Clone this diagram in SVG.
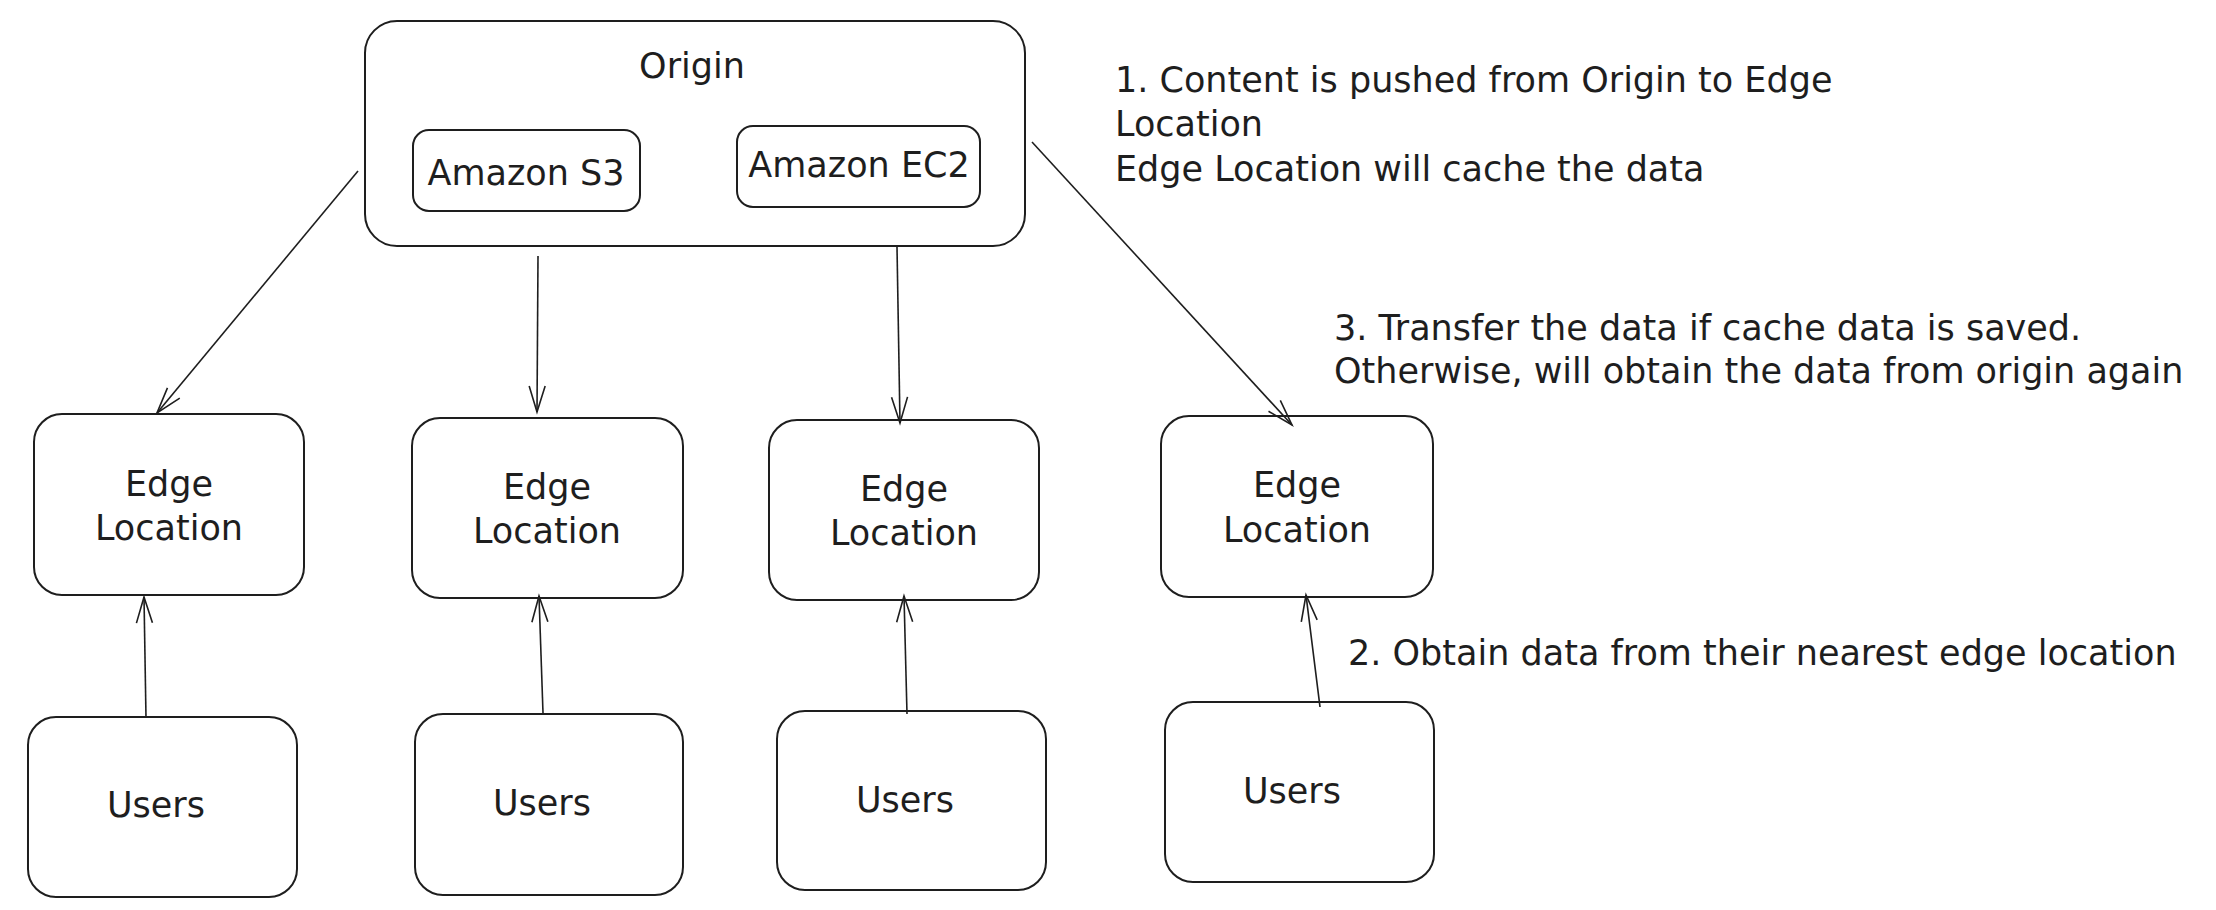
<svg xmlns="http://www.w3.org/2000/svg" width="2216" height="910" viewBox="0 0 2216 910">
<style>
  .box { fill: #ffffff; stroke: #1e1e1e; stroke-width: 2; }
  .lbl { font-family: "DejaVu Sans", "Liberation Sans", sans-serif; font-size: 35px; fill: #1e1e1e; }
  .mid { text-anchor: middle; }
  .conn { fill: none; stroke: #1e1e1e; stroke-width: 1.6; marker-end: url(#ah); }
</style>
<defs>
  <marker id="ah" markerWidth="30" markerHeight="20" refX="28" refY="10" orient="auto" markerUnits="userSpaceOnUse" overflow="visible">
    <path d="M2,2 L28,10 L2,18" fill="none" stroke="#1e1e1e" stroke-width="1.6"/>
  </marker>
</defs>
<rect width="2216" height="910" fill="#ffffff"/>

<g id="origin">
  <rect class="box" x="365" y="21" width="660" height="225" rx="32"/>
  <text class="lbl mid" x="692" y="78">Origin</text>
</g>
<g id="amazon-s3">
  <rect class="box" x="413" y="130" width="227" height="81" rx="16"/>
  <text class="lbl mid" x="526" y="185">Amazon S3</text>
</g>
<g id="amazon-ec2">
  <rect class="box" x="737" y="126" width="243" height="81" rx="16"/>
  <text class="lbl mid" x="859" y="177">Amazon EC2</text>
</g>

<g id="edge1">
  <rect class="box" x="34" y="414" width="270" height="181" rx="28"/>
  <text class="lbl mid" x="169" y="496">Edge</text>
  <text class="lbl mid" x="169" y="540">Location</text>
</g>
<g id="edge2">
  <rect class="box" x="412" y="418" width="271" height="180" rx="28"/>
  <text class="lbl mid" x="547" y="499">Edge</text>
  <text class="lbl mid" x="547" y="543">Location</text>
</g>
<g id="edge3">
  <rect class="box" x="769" y="420" width="270" height="180" rx="28"/>
  <text class="lbl mid" x="904" y="501">Edge</text>
  <text class="lbl mid" x="904" y="545">Location</text>
</g>
<g id="edge4">
  <rect class="box" x="1161" y="416" width="272" height="181" rx="28"/>
  <text class="lbl mid" x="1297" y="497">Edge</text>
  <text class="lbl mid" x="1297" y="542">Location</text>
</g>

<g id="users1">
  <rect class="box" x="28" y="717" width="269" height="180" rx="28"/>
  <text class="lbl mid" x="156" y="817">Users</text>
</g>
<g id="users2">
  <rect class="box" x="415" y="714" width="268" height="181" rx="28"/>
  <text class="lbl mid" x="542" y="815">Users</text>
</g>
<g id="users3">
  <rect class="box" x="777" y="711" width="269" height="179" rx="28"/>
  <text class="lbl mid" x="905" y="812">Users</text>
</g>
<g id="users4">
  <rect class="box" x="1165" y="702" width="269" height="180" rx="28"/>
  <text class="lbl mid" x="1292" y="803">Users</text>
</g>

<g id="notes">
  <text class="lbl" x="1115" y="92">1. Content is pushed from Origin to Edge</text>
  <text class="lbl" x="1115" y="136">Location</text>
  <text class="lbl" x="1115" y="181">Edge Location will cache the data</text>
  <text class="lbl" x="1334" y="340">3. Transfer the data if cache data is saved.</text>
  <text class="lbl" x="1334" y="383">Otherwise, will obtain the data from origin again</text>
  <text class="lbl" x="1348" y="665">2. Obtain data from their nearest edge location</text>
</g>

<g id="connectors">
  <path class="conn" d="M358,171 L157,413"/>
  <path class="conn" d="M538,256 L537,412"/>
  <path class="conn" d="M897,247 L900,423"/>
  <path class="conn" d="M1032,142 L1292,425"/>
  <path class="conn" d="M146,718 L144,597"/>
  <path class="conn" d="M543,713 L539,596"/>
  <path class="conn" d="M907,714 L904,596"/>
  <path class="conn" d="M1320,707 L1306,595"/>
</g>
</svg>
